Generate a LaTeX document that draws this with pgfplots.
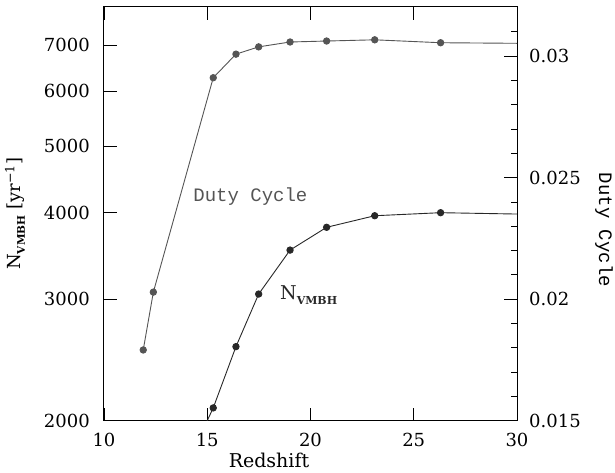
\documentclass[border=0pt]{standalone}
\usepackage{pgfplots}
\pgfplotsset{compat=1.18}
\usepackage{fontspec}
\setmainfont{DejaVu Serif}
\newfontfamily\monofont{Liberation Mono}
\definecolor{dutygray}{RGB}{85,85,85}
\definecolor{nblack}{RGB}{40,40,40}
\newcommand{\tl}[1]{\mbox{\fontsize{18}{20}\selectfont #1}}

\begin{document}
\begin{tikzpicture}
\pgfplotsset{
  every axis/.append style={
    scale only axis, width=413pt, height=413.7pt,
    xmin=10, xmax=30,
    clip mode=individual,
    tick align=inside,
    axis line style={line width=1pt},
    tick style={black, line width=0.8pt},
    major tick length=13pt, minor tick length=6.5pt,
  }
}
% left axis: N_VMBH (log)
\begin{axis}[
  ymode=log, ymin=2000, ymax=7950,
  ytick={2000,3000,4000,5000,6000,7000},
  yticklabels={\tl{2000},\tl{3000},\tl{4000},\tl{5000},\tl{6000},\tl{7000}},
  yticklabel style={anchor=east, inner sep=0pt, xshift=-14pt},
  minor ytick={},
  minor y tick style={draw=none},
  ytick pos=left,
  xtick={10,15,20,25,30},
  xticklabels={\tl{10},\tl{15},\tl{20},\tl{25},\tl{30}},
  xticklabel style={anchor=north, inner sep=0pt, yshift=-12.6pt},
  xtick pos=both,
]
\addplot[nblack, line width=0.9pt, mark=*, mark size=3.2pt] coordinates {
  (12.39,1366) (15.29,2087) (16.39,2560) (17.49,3051) (19.01,3533)
  (20.78,3812) (23.11,3962) (26.30,4002) (31.00,3980)
};
\node[dutygray, font=\monofont\fontsize{19}{20}\selectfont] at (axis cs:17.09,4221) {Duty Cycle};
\node[nblack, anchor=west, inner sep=0pt, font=\fontsize{19}{20}\selectfont] at (axis cs:18.52,3040)
  {N\raisebox{-0.45ex}{\fontsize{11}{11}\selectfont\bfseries VMBH}};
\node[rotate=90, font=\fontsize{18}{20}\selectfont] at ([xshift=-89pt]rel axis cs:0,0.5)
  {N\raisebox{-0.45ex}{\fontsize{10.5}{10}\selectfont\bfseries VMBH}\ [yr\textsuperscript{−1}]};
\node[anchor=base, inner sep=0pt, font=\fontsize{19}{20}\selectfont] at ([yshift=-47.3pt]rel axis cs:0.3995,0) {Redshift};
\coordinate (bl) at (rel axis cs:0,0);
\coordinate (tr) at (rel axis cs:1,1);
\end{axis}
% right axis: duty cycle (linear)
\begin{axis}[
  axis x line=none,
  axis y line*=right,
  ymin=0.015, ymax=0.03202,
  ytick={0.015,0.02,0.025,0.03},
  yticklabels={\tl{0.015},\tl{0.02},\tl{0.025},\tl{0.03}},
  yticklabel style={anchor=west, inner sep=0pt, xshift=12pt},
  minor ytick={0.016,0.017,0.018,0.019,0.021,0.022,0.023,0.024,0.026,0.027,0.028,0.029,0.031},
  scaled y ticks=false,
]
\addplot[dutygray, line width=0.9pt, mark=*, mark size=3.2pt] coordinates {
  (11.90,0.01791) (12.39,0.02029) (15.29,0.02911) (16.39,0.03008) (17.49,0.03038)
  (19.01,0.03058) (20.78,0.03062) (23.11,0.03067) (26.30,0.03055) (31.00,0.03052)
};
\node[rotate=-90, font=\monofont\fontsize{19}{20}\selectfont] at ([xshift=87pt]rel axis cs:1,0.461) {Duty Cycle};
\end{axis}
\pgfresetboundingbox
\path ([shift={(-104pt,-51.3pt)}]bl) rectangle ([shift={(98pt,7pt)}]tr);
\end{tikzpicture}
\end{document}
